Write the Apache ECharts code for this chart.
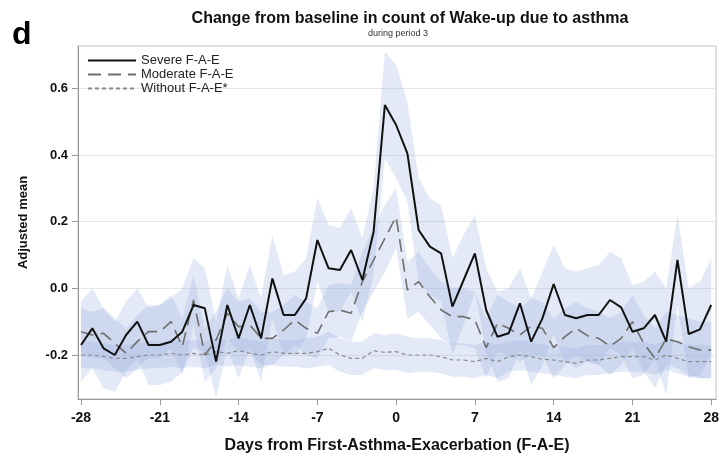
<!DOCTYPE html>
<html><head><meta charset="utf-8">
<script src="https://cdn.jsdelivr.net/npm/echarts@6/dist/echarts.min.js"></script>
<style>html,body{margin:0;padding:0;background:#fff}#c{width:722px;height:460px}</style>
</head><body><div id="c"></div>
<script>
const days = [-28,-27,-26,-25,-24,-23,-22,-21,-20,-19,-18,-17,-16,-15,-14,-13,-12,-11,-10,-9,-8,-7,-6,-5,-4,-3,-2,-1,0,1,2,3,4,5,6,7,8,9,10,11,12,13,14,15,16,17,18,19,20,21,22,23,24,25,26,27,28];
const xTicks = [-28,-21,-14,-7,0,7,14,21,28];
const yTicks = [-0.2,0,0.2,0.4,0.6];

const severe = [-0.17,-0.12,-0.18,-0.20,-0.14,-0.10,-0.17,-0.17,-0.16,-0.13, -0.05,-0.06,-0.22,-0.05,-0.15,-0.05,-0.15,0.03,-0.08,-0.08, -0.03,0.145,0.06,0.055,0.115,0.025,0.17,0.55,0.49,0.405, 0.175,0.125,0.105,-0.055,0.025,0.105,-0.065,-0.145,-0.135,-0.045, -0.16,-0.09,0.013,-0.08,-0.09,-0.08,-0.08,-0.035,-0.057,-0.13, -0.12,-0.08,-0.16,0.085,-0.137,-0.123,-0.05];
const severeHi = [-0.04,0.00,-0.06,-0.10,-0.04,0.00,-0.06,-0.05,-0.03,0.00, 0.09,0.06,-0.10,0.07,-0.03,0.07,-0.03,0.16,0.04,0.05, 0.09,0.27,0.19,0.18,0.24,0.15,0.30,0.71,0.67,0.56, 0.33,0.27,0.25,0.09,0.16,0.22,0.06,-0.01,0.00,0.06, -0.03,0.05,0.13,0.06,0.05,0.06,0.07,0.11,0.09,0.01, 0.02,0.05,0.00,0.22,0.00,0.02,0.09];
const severeLo = [-0.28,-0.24,-0.30,-0.31,-0.25,-0.21,-0.29,-0.29,-0.28,-0.25, -0.18,-0.19,-0.33,-0.18,-0.27,-0.18,-0.28,-0.09,-0.20,-0.20, -0.15,0.02,-0.07,-0.07,-0.01,-0.10,0.04,0.39,0.33,0.26, 0.02,-0.02,-0.04,-0.20,-0.11,-0.01,-0.19,-0.28,-0.27,-0.18, -0.29,-0.23,-0.14,-0.22,-0.24,-0.22,-0.23,-0.18,-0.20,-0.27, -0.26,-0.21,-0.32,-0.05,-0.27,-0.26,-0.20];

const moderate = [-0.13,-0.14,-0.135,-0.165,-0.195,-0.16,-0.13,-0.13,-0.10,-0.175, -0.035,-0.20,-0.155,-0.075,-0.115,-0.11,-0.15,-0.15,-0.125,-0.095, -0.12,-0.135,-0.07,-0.065,-0.075,0.02,0.085,0.15,0.215,-0.005, 0.02,-0.025,-0.065,-0.085,-0.085,-0.095,-0.178,-0.105,-0.12,-0.14, -0.113,-0.12,-0.178,-0.145,-0.12,-0.142,-0.15,-0.174,-0.15,-0.10, -0.165,-0.21,-0.152,-0.16,-0.175,-0.185,-0.185];
const moderateHi = [-0.06,-0.07,-0.06,-0.09,-0.12,-0.08,-0.05,-0.05,-0.02,-0.09, 0.04,-0.12,-0.07,0.00,-0.04,-0.03,-0.07,-0.07,-0.05,-0.02, -0.04,-0.06,0.01,0.015,0.01,0.11,0.18,0.25,0.30,0.08, 0.11,0.06,0.02,0.00,0.00,-0.01,-0.09,-0.02,-0.04,-0.06, -0.03,-0.04,-0.09,-0.06,-0.04,-0.06,-0.07,-0.09,-0.07,-0.02, -0.08,-0.12,-0.07,-0.08,-0.09,-0.10,-0.10];
const moderateLo = [-0.20,-0.21,-0.21,-0.24,-0.27,-0.24,-0.21,-0.21,-0.18,-0.26, -0.11,-0.28,-0.24,-0.15,-0.19,-0.19,-0.23,-0.23,-0.20,-0.17, -0.20,-0.21,-0.15,-0.145,-0.16,-0.07,-0.01,0.05,0.12,-0.09, -0.07,-0.11,-0.15,-0.17,-0.17,-0.18,-0.27,-0.19,-0.20,-0.22, -0.20,-0.20,-0.27,-0.23,-0.20,-0.22,-0.23,-0.26,-0.23,-0.18, -0.25,-0.30,-0.23,-0.24,-0.26,-0.27,-0.27];

const without = [-0.20,-0.20,-0.205,-0.21,-0.21,-0.205,-0.20,-0.20,-0.195,-0.20, -0.195,-0.20,-0.19,-0.195,-0.187,-0.195,-0.20,-0.19,-0.195,-0.195, -0.195,-0.19,-0.18,-0.20,-0.21,-0.21,-0.187,-0.192,-0.19,-0.20, -0.20,-0.20,-0.205,-0.215,-0.215,-0.22,-0.21,-0.22,-0.205,-0.20, -0.205,-0.213,-0.215,-0.22,-0.225,-0.215,-0.215,-0.21,-0.205,-0.205, -0.205,-0.215,-0.20,-0.21,-0.22,-0.22,-0.22];
const withoutHi = [-0.16,-0.16,-0.165,-0.17,-0.17,-0.165,-0.16,-0.16,-0.155,-0.16, -0.155,-0.16,-0.15,-0.155,-0.145,-0.155,-0.16,-0.15,-0.155,-0.155, -0.15,-0.145,-0.13,-0.15,-0.16,-0.16,-0.135,-0.14,-0.135,-0.145, -0.15,-0.15,-0.155,-0.165,-0.165,-0.17,-0.16,-0.17,-0.16,-0.155, -0.16,-0.17,-0.17,-0.175,-0.18,-0.17,-0.17,-0.165,-0.16,-0.16, -0.16,-0.17,-0.155,-0.165,-0.17,-0.17,-0.17];
const withoutLo = [-0.24,-0.24,-0.245,-0.25,-0.25,-0.245,-0.24,-0.24,-0.235,-0.24, -0.235,-0.24,-0.23,-0.235,-0.23,-0.235,-0.24,-0.23,-0.235,-0.235, -0.24,-0.235,-0.23,-0.25,-0.26,-0.26,-0.24,-0.245,-0.245,-0.255, -0.25,-0.25,-0.255,-0.265,-0.265,-0.27,-0.26,-0.27,-0.25,-0.245, -0.25,-0.255,-0.26,-0.265,-0.27,-0.26,-0.26,-0.255,-0.25,-0.25, -0.25,-0.26,-0.245,-0.255,-0.265,-0.27,-0.27];

const SANS = "'Liberation Sans',Arial,sans-serif";
const BAND = 'rgba(150,172,222,0.27)';

function pairs(ys){ return days.map((d,i)=>[d, ys[i]]); }
function bandSeries(id, lo, hi){
  return {
    name:id, type:'custom', silent:true, clip:true, z:1,
    data: days.map((d,i)=>[d, lo[i], hi[i]]),
    encode:{x:0, y:[1,2]},
    renderItem:function(params, api){
      if (params.dataIndexInside !== 0) return null;
      const pts = [];
      for (let i=0;i<days.length;i++) pts.push(api.coord([days[i], hi[i]]));
      for (let i=days.length-1;i>=0;i--) pts.push(api.coord([days[i], lo[i]]));
      return {type:'polygon', shape:{points:pts}, style:{fill:BAND, stroke:null}};
    }
  };
}

const chart = echarts.init(document.getElementById('c'), null, {renderer:'canvas'});
chart.setOption({
  animation:false,
  backgroundColor:'#fff',
  grid:{left:78, right:3, top:46, bottom:61, show:true, borderColor:'#c4c4c4', borderWidth:1},
  graphic:[
    {type:'text', left:12, top:19, style:{text:'d', font:"bold 32px "+SANS, fill:'#000'}},
    {type:'text', x:410, y:11, style:{text:'Change from baseline in count of Wake-up due to asthma', font:"bold 16px "+SANS, fill:'#111', textAlign:'center'}},
    {type:'text', x:398, y:29, style:{text:'during period 3', font:"9px "+SANS, fill:'#333', textAlign:'center'}}
  ],
  legend:{
    data:['Severe F-A-E','Moderate F-A-E','Without F-A-E*'],
    orient:'vertical', left:82, top:49, itemWidth:48, itemHeight:14, itemGap:1,
    itemStyle:{opacity:0},
    textStyle:{fontFamily:SANS, fontSize:13, color:'#222'},
    selectedMode:false
  },
  xAxis:{
    type:'value', min:-28.27, max:28.44,
    name:'Days from First-Asthma-Exacerbation (F-A-E)', nameLocation:'middle', nameGap:39,
    nameTextStyle:{fontFamily:SANS, fontWeight:'bold', fontSize:16, color:'#111'},
    axisLine:{show:true, onZero:false, lineStyle:{color:'#999'}},
    axisTick:{show:true, customValues:xTicks, length:6, lineStyle:{color:'#999'}},
    axisLabel:{customValues:xTicks, margin:12, fontFamily:SANS, fontWeight:'bold', fontSize:14, color:'#111'},
    splitLine:{show:false}
  },
  yAxis:{
    type:'value', min:-0.332, max:0.727,
    name:'Adjusted mean', nameLocation:'middle', nameGap:48, nameRotate:90,
    nameTextStyle:{fontFamily:SANS, fontWeight:'bold', fontSize:13, color:'#111'},
    axisLine:{show:true, onZero:false, lineStyle:{color:'#999'}},
    axisTick:{show:true, customValues:yTicks, length:6, lineStyle:{color:'#999'}},
    axisLabel:{customValues:yTicks, margin:10, fontFamily:SANS, fontWeight:'bold', fontSize:13, color:'#111',
      formatter:v=>v.toFixed(1)},
    splitLine:{show:true, lineStyle:{color:'#e6e6e6', width:1}}
  },
  series:[
    bandSeries('bs', severeLo, severeHi),
    bandSeries('bm', moderateLo, moderateHi),
    bandSeries('bw', withoutLo, withoutHi),
    {name:'Without F-A-E*', type:'line', data:pairs(without), symbol:'none', z:3,
      lineStyle:{color:'#8a8a8a', width:1.2, type:[4,3]}, itemStyle:{color:'#8a8a8a'}},
    {name:'Moderate F-A-E', type:'line', data:pairs(moderate), symbol:'none', z:4,
      lineStyle:{color:'#6e6e6e', width:1.6, type:[13,7]}, itemStyle:{color:'#6e6e6e'}},
    {name:'Severe F-A-E', type:'line', data:pairs(severe), symbol:'none', z:5,
      lineStyle:{color:'#111', width:2}, itemStyle:{color:'#111'}}
  ]
});
</script></body></html>
